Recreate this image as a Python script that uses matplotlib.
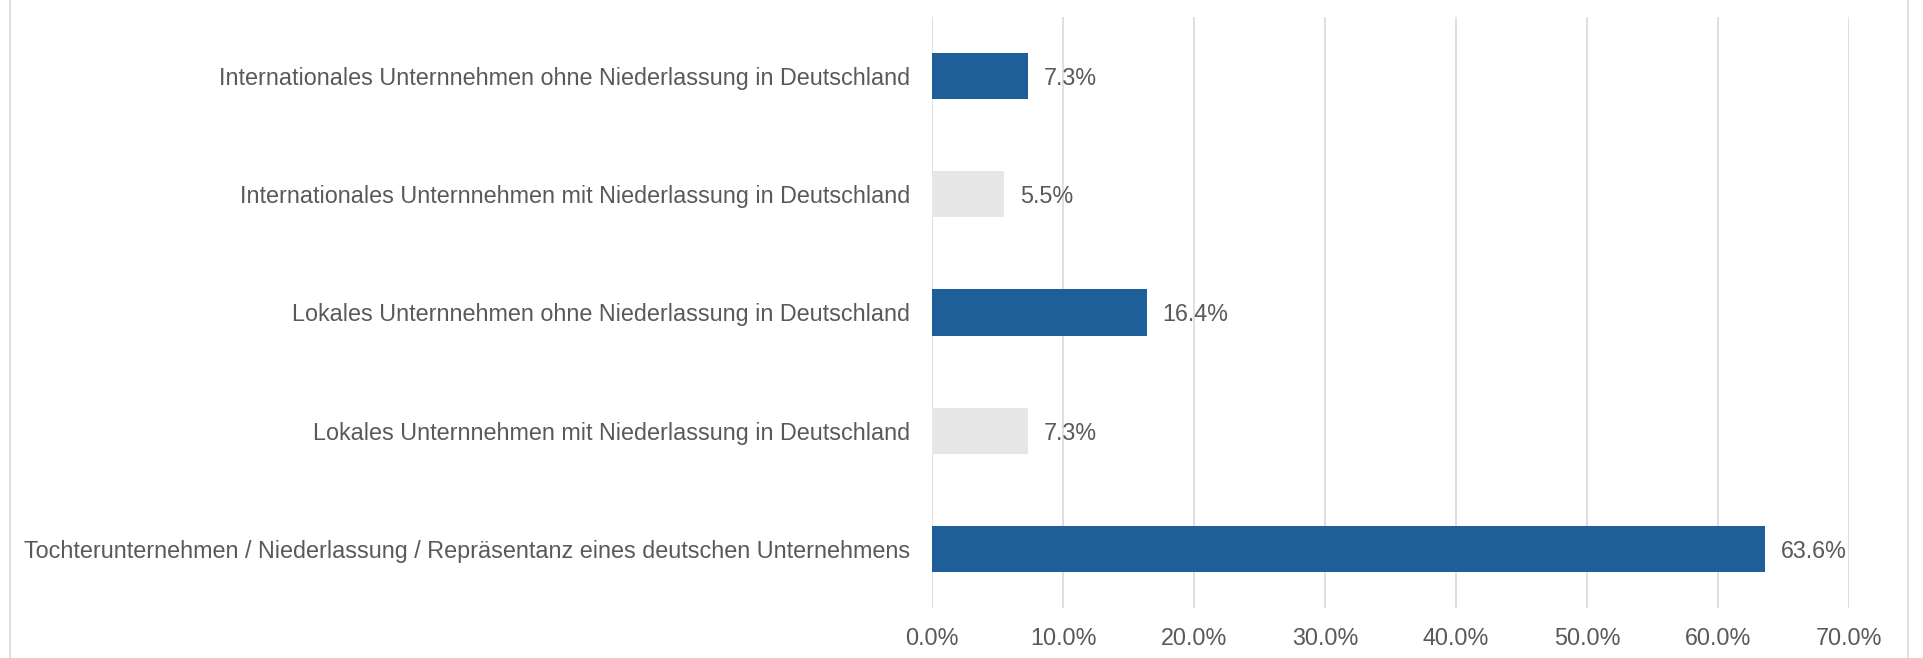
import matplotlib.pyplot as plt
from matplotlib.patches import Rectangle

categories = [
    "Tochterunternehmen / Niederlassung / Repräsentanz eines deutschen Unternehmens",
    "Lokales Unternnehmen mit Niederlassung in Deutschland",
    "Lokales Unternnehmen ohne Niederlassung in Deutschland",
    "Internationales Unternnehmen mit Niederlassung in Deutschland",
    "Internationales Unternnehmen ohne Niederlassung in Deutschland",
]
values = [63.6, 7.3, 16.4, 5.5, 7.3]
bar_colors = ["#1F5F99", "#E7E6E6", "#1F5F99", "#E7E6E6", "#1F5F99"]
xticks = [0, 10, 20, 30, 40, 50, 60, 70]

plt.rcParams['font.family'] = ['Liberation Sans', 'DejaVu Sans']
text_col = "#595959"
grid_col = "#D9D9D9"
fs = 16.8

fig = plt.figure(figsize=(19.23, 6.58), dpi=100)
ax = fig.add_axes([932/1923, 50/658, 917/1923, 591/658])

y = range(len(categories))
ax.barh(y, values, height=0.39, color=bar_colors, zorder=3)
for i, v in enumerate(values):
    ax.text(v + 1.2, i - 0.02, f"{v:.1f}%", va='center', ha='left',
            fontsize=fs, color=text_col)

ax.set_xlim(0, 70)
ax.set_ylim(-0.5, 4.5)
ax.set_xticks(xticks)
ax.set_xticklabels([f"{t:.1f}%" for t in xticks])
ax.set_yticks(list(y))
ax.set_yticklabels(categories)
ax.tick_params(axis='both', length=0, labelsize=fs, labelcolor=text_col)
ax.tick_params(axis='x', pad=14)
ax.tick_params(axis='y', pad=16)
ax.grid(axis='x', color=grid_col, linewidth=1.2, zorder=0)
for s in ax.spines.values():
    s.set_visible(False)

# outer frame
fig.add_artist(Rectangle((10/1923, -0.05), 1898/1923, 1.1, transform=fig.transFigure,
                         fill=False, edgecolor=grid_col, linewidth=1.2))

fig.savefig("out.png", dpi=100)
